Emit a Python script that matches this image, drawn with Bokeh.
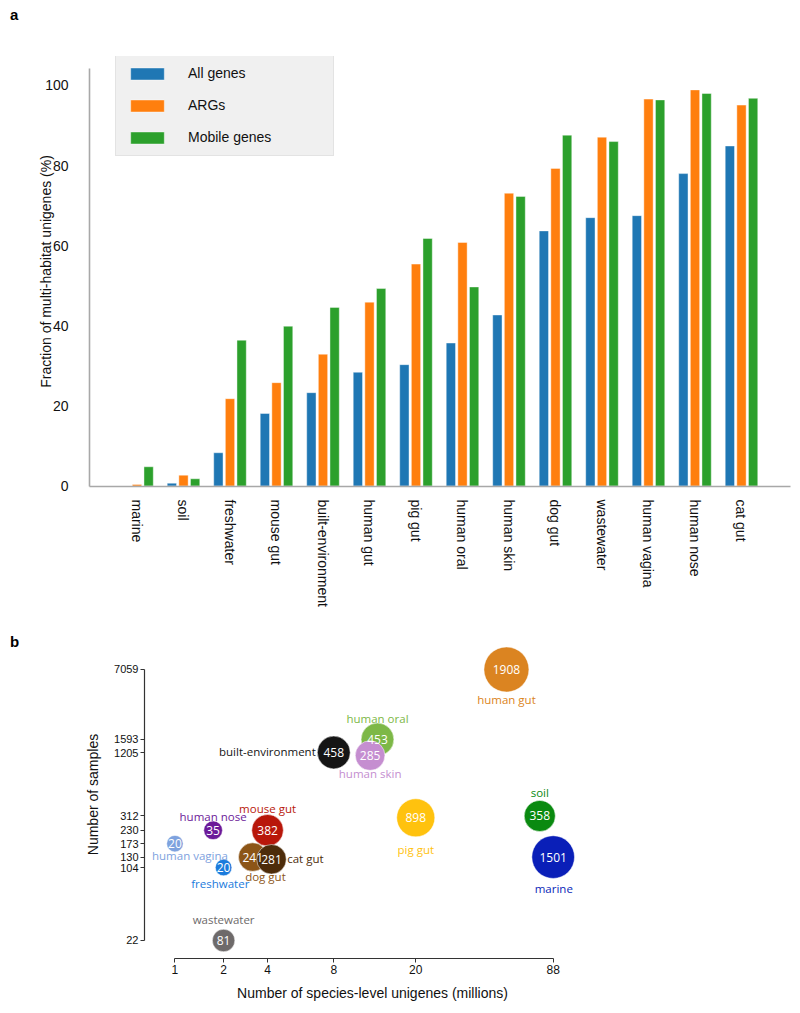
import numpy as np
from bokeh.plotting import figure
from bokeh.models import (ColumnDataSource, FixedTicker, Legend, LegendItem, Range1d, Div)
from bokeh.layouts import column, row
from bokeh.embed import file_html
from bokeh.resources import INLINE
from bokeh.core.properties import value

# ---------------- Panel a data ----------------
habitats_a = ["marine", "soil", "freshwater", "mouse gut", "built-environment", "human gut",
              "pig gut", "human oral", "human skin", "dog gut", "wastewater",
              "human vagina", "human nose", "cat gut"]
all_genes = [0.0, 0.7, 8.3, 18.1, 23.3, 28.4, 30.3, 35.7, 42.7, 63.7, 67.0, 67.5, 78.0, 84.9]
arg_genes = [0.4, 2.7, 21.8, 25.8, 32.9, 45.9, 55.4, 60.8, 73.1, 79.3, 87.1, 96.6, 98.9, 95.1]
mobile_genes = [4.8, 1.8, 36.4, 39.9, 44.6, 49.3, 61.8, 49.7, 72.3, 87.6, 86.0, 96.4, 98.0, 96.8]
series_names = ["All genes", "ARGs", "Mobile genes"]
y_ticks_a = [0, 20, 40, 60, 80, 100]

# ---------------- Panel b data ----------------
habitats_b = ["human gut", "human oral", "built-environment", "human skin", "pig gut", "soil",
              "marine", "mouse gut", "human nose", "human vagina", "freshwater", "dog gut",
              "cat gut", "wastewater"]
unigenes_millions = [52.8, 12.9, 8.0, 11.9, 19.6, 76.0, 88.0, 3.88, 2.14, 1.41, 2.4, 3.30, 4.05, 2.4]
n_samples = [7059, 1593, 1205, 1130, 300, 312, 130, 230, 230, 173, 104, 130, 124, 22]
bubble_numbers = [1908, 453, 458, 285, 898, 358, 1501, 382, 35, 20, 20, 241, 281, 81]
x_tick_values = [1.41, 2.4, 3.88, 8.0, 19.6, 88.0]
x_tick_labels = ["1", "2", "4", "8", "20", "88"]
y_tick_values = [22, 104, 130, 173, 230, 312, 1205, 1593, 7059]

# ---------------- styles ----------------
bar_colors = ["#1f77b4", "#ff7f0e", "#2ca02c"]
bubble_colors = ["#DB8421", "#7DB847", "#151515", "#C58ED0", "#FFC20E", "#0A8A10",
                 "#0A1FB8", "#B8170A", "#6C1A99", "#7EA2DE", "#1B7BDC", "#8C5517",
                 "#4D2C0A", "#6E6A6A"]
label_dx = [0, 0, -18, 0, 0, 0, 0.6, 0, 0, 15, -3.3, 12.7, 15.7, 0]
label_dy = [30.4, -20.6, -0.6, 17.7, 31.6, -23.3, 31.7, -21.6, -13.3, 11.6, 15.6, 19, -0.6, -20.7]
label_align = ["center", "center", "right", "center", "center", "center", "center", "center",
               "center", "center", "center", "center", "left", "center"]

SANS = "Liberation Sans"
DIV_W = 20


def panel_letter(letter, top, height):
    html = ('<div style="font-family:\'Liberation Sans\',Arial,sans-serif;font-weight:bold;'
            'font-size:15px;line-height:15px;padding-left:10px;position:relative;top:%dpx;color:#000;">%s</div>'
            % (top, letter))
    return Div(text=html, width=DIV_W, height=height, margin=0)


# ================= Panel a =================
pa = figure(width=772, height=609, x_range=Range1d(-1.0215, 14.054), y_range=Range1d(-0.125, 107.24),
            output_backend="svg", toolbar_location=None,
            min_border_left=69, min_border_right=2, min_border_top=56, min_border_bottom=123)
pa.frame_align = False
pa.outline_line_color = None
pa.grid.grid_line_color = None

x_idx = np.arange(len(habitats_a))
renderers = []
for vals, off, col in zip([all_genes, arg_genes, mobile_genes], [-0.25, 0.0, 0.25], bar_colors):
    src = ColumnDataSource(dict(x=x_idx + off, top=vals))
    r = pa.vbar(x="x", top="top", bottom=0, width=0.2, source=src, fill_color=col,
                line_color="white", line_width=0.6, line_alpha=0.7)
    renderers.append(r)

pa.xaxis.ticker = FixedTicker(ticks=list(range(len(habitats_a))))
pa.xaxis.major_label_overrides = {i: h for i, h in enumerate(habitats_a)}
pa.xaxis.major_label_orientation = "vertical"
pa.yaxis.ticker = FixedTicker(ticks=y_ticks_a)
pa.yaxis.bounds = (-0.125, 104.24)
for ax in (pa.xaxis, pa.yaxis):
    ax.axis_line_color = "#a8a8a8"
    ax.axis_line_width = 1.6
    ax.major_tick_line_color = None
    ax.minor_tick_line_color = None
    ax.major_label_text_font = SANS
    ax.major_label_text_font_size = "14px"
    ax.major_label_text_color = "#111111"
    ax.axis_label_text_font = SANS
    ax.axis_label_text_font_size = "14px"
    ax.axis_label_text_font_style = "normal"
    ax.axis_label_text_color = "#111111"
pa.xaxis.major_label_standoff = 7
pa.yaxis.major_label_standoff = 15
pa.yaxis.axis_label = "Fraction of multi-habitat unigenes (%)"
pa.yaxis.axis_label_standoff = -12

legend = Legend(items=[LegendItem(label=n, renderers=[r]) for n, r in zip(series_names, renderers)],
                location=(26, 330), padding=10, spacing=16, glyph_width=42, glyph_height=15,
                label_height=15, label_width=135, label_standoff=20,
                label_text_font=SANS, label_text_font_size="14px", label_text_color="#111111",
                background_fill_color="#f0f0f0", background_fill_alpha=1.0,
                border_line_color="#d6d6d6", border_line_width=1)
pa.add_layout(legend)

# ================= Panel b =================
pb = figure(width=600, height=404, x_axis_type="log", y_axis_type="log",
            x_range=Range1d(1.011, 147.6), y_range=Range1d(14.99, 16197),
            output_backend="svg", toolbar_location=None,
            min_border_left=124, min_border_right=20, min_border_top=21, min_border_bottom=55)
pb.frame_align = False
pb.outline_line_color = None
pb.grid.grid_line_color = None

sizes = [8.54 * v ** 0.22 for v in bubble_numbers]
srcb = ColumnDataSource(dict(x=unigenes_millions, y=n_samples, n=[str(v) for v in bubble_numbers],
                             name=habitats_b, color=bubble_colors, size=sizes,
                             dx=label_dx, dy=label_dy, align=label_align))
pb.scatter(x="x", y="y", size="size", source=srcb, fill_color="color", fill_alpha=1.0,
           line_color="white", line_width=1, line_alpha=0.5)
pb.text(x="x", y="y", text="n", source=srcb, text_color="white", text_font=value("Open Sans"),
        text_font_size="12px", text_align="center", text_baseline="middle")
pb.text(x="x", y="y", text="name", source=srcb, x_offset="dx", y_offset="dy",
        text_color="color", text_font=value("Open Sans"), text_font_size="11.5px",
        text_align="align", text_baseline="middle")

pb.xaxis.ticker = FixedTicker(ticks=x_tick_values)
pb.xaxis.major_label_overrides = {v: l for v, l in zip(x_tick_values, x_tick_labels)}
pb.yaxis.ticker = FixedTicker(ticks=y_tick_values)
pb.yaxis.major_label_overrides = {v: str(v) for v in y_tick_values}
pb.xaxis.bounds = (x_tick_values[0], x_tick_values[-1])
pb.yaxis.bounds = (min(y_tick_values), max(y_tick_values))
for ax in (pb.xaxis, pb.yaxis):
    ax.axis_line_color = "#333333"
    ax.axis_line_width = 1.2
    ax.major_tick_line_color = "#333333"
    ax.major_tick_out = 4
    ax.major_tick_in = 0
    ax.minor_tick_line_color = None
    ax.major_label_text_font = SANS
    ax.major_label_text_color = "#111111"
    ax.axis_label_text_font = SANS
    ax.axis_label_text_font_size = "14px"
    ax.axis_label_text_font_style = "normal"
    ax.axis_label_text_color = "#111111"
pb.xaxis.major_label_text_font_size = "12px"
pb.yaxis.major_label_text_font_size = "11px"
pb.xaxis.major_label_standoff = 2
pb.yaxis.major_label_standoff = 2
pb.xaxis.axis_label = "Number of species-level unigenes (millions)"
pb.yaxis.axis_label = "Number of samples"
pb.xaxis.axis_label_standoff = 8
pb.yaxis.axis_label_standoff = 10

layout = column(row(panel_letter("a", 7, 609), pa), row(panel_letter("b", 25, 404), pb))
open("out.html", "w").write(file_html(layout, INLINE))
